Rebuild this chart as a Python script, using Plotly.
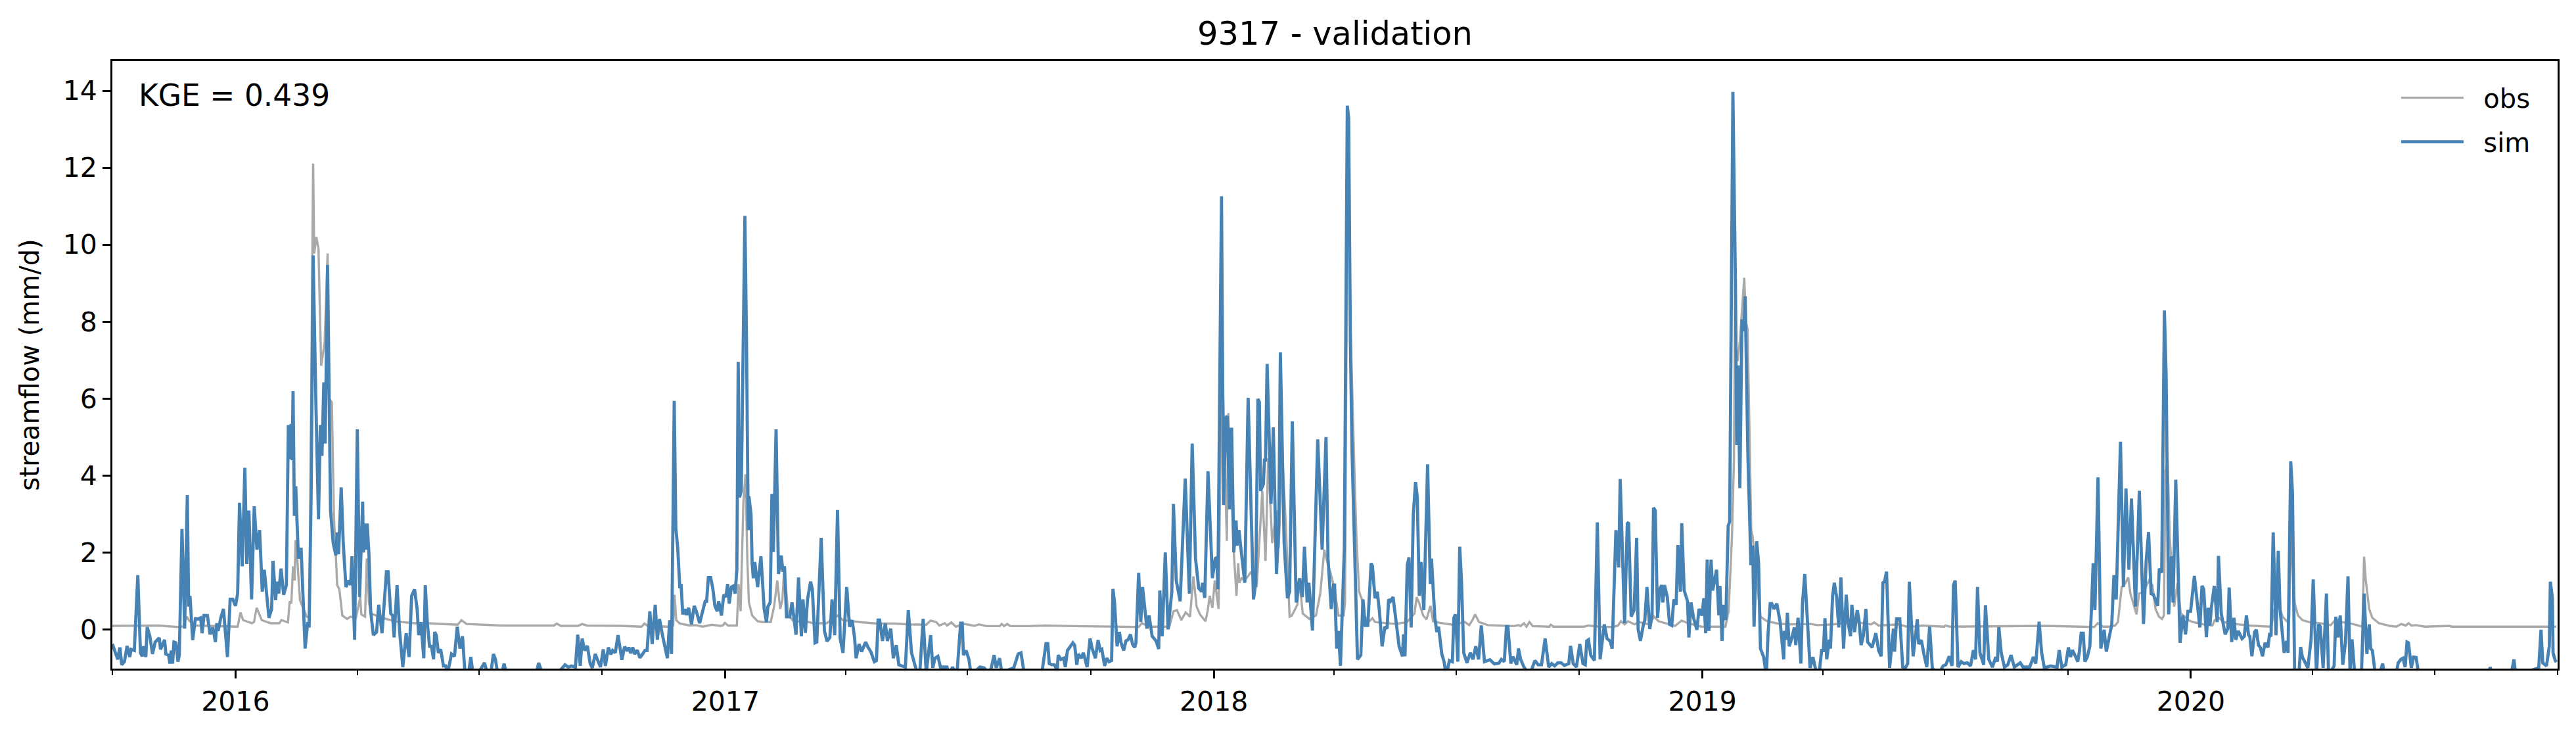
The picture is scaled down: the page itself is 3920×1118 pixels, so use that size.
import pandas as pd
import plotly.graph_objects as go

START = "2015-10-01"
TITLE = "9317 - validation"
KGE_TEXT = "KGE = 0.439"
Y_LABEL = "streamflow (mm/d)"
Y_TICKS = [0, 2, 4, 6, 8, 10, 12, 14]

# (days since START, mm/d)
sim_points = [
(0,-0.38),(2,-0.61),(4,-0.78),(5.6,-0.47),(7,-0.92),(9,-0.84),(11,-0.43),(13,-0.72),(14,-0.52),(16.4,-0.55),(19,1.41),(21,-0.61),(22.4,-0.7),(23,-0.44),(25,-0.72),(26,0.06),(28,-0.18),(30,-0.64),(32,-0.33),(35,-0.22),(36,-0.52),(39,-0.27),(40,-0.64),(42,-0.67),(43,-0.89),(44,-0.55),(45,-0.89),(46,-0.33),(47.5,-0.35),(49,-0.84),(50,-0.67),(52,2.61),(54,0.02),(56,3.49),(57,0.59),(58,0.87),(60,-0.28),(62,0.27),(64,0.27),(66,0.3),(67,-0.1),(68.5,0.36),(71,0.36),(73,-0.13),(75,0.05),(77,-0.33),(78,0.16),(79,-0.04),(81,0.3),(83,0.53),(86,-0.72),(88,0.78),(90,0.78),(92,0.61),(93.6,0.93),(95,3.29),(97,1.64),(99,4.2),(100.4,1.7),(102,3.09),(104,0.78),(106,3.2),(108,2.07),(110,2.58),(112,0.98),(113.5,1.55),(115,1.04),(117,0.3),(119,0.53),(120,1.78),(122,0.76),(123,1.24),(124.3,0.93),(126,1.58),(128,0.9),(130,1.15),(131.5,5.31),(133,4.43),(133.5,5.34),(134.3,4.4),(135,6.19),(136,2.95),(137,3.72),(138,2.5),(139,1.84),(141,2.12),(144,-0.5),(146,0.19),(147,0.05),(148.5,3.5),(150,9.72),(152,6.0),(154,2.86),(155.4,5.31),(156.6,4.51),(158,6.42),(159,4.83),(160.8,9.47),(163,3.09),(165,2.24),(167,1.92),(168,2.52),(169,1.95),(171,3.69),(172.5,2.24),(174.5,1.1),(176.7,1.27),(178,1.15),(179,1.9),(181,-0.27),(183,5.2),(184.7,0.84),(187,3.32),(187.6,2.0),(188.5,2.75),(190,2.07),(190.4,2.75),(191.7,1.95),(193,0.47),(195,-0.15),(197.4,-0.07),(199,0.64),(201.5,-0.1),(204.8,1.5),(206,1.5),(208,0.41),(209.4,0.36),(210.5,-0.21),(212.7,1.15),(214.6,-0.04),(217,-0.98),(219.5,-0.1),(221.7,-0.72),(223.6,0.87),(225.8,1.04),
(227.7,0.53),(228.9,-0.15),(230.5,0.19),(232.7,-0.75),(233.8,1.15),(235.4,0.13),(237,-0.44),(238.4,-0.44),(240,-0.78),(240.8,-0.07),(242,-0.15),(243.6,-0.61),(245.3,-0.52),(247.4,-0.95),(249,-0.95),(250.7,-1.1),(253.4,-0.64),(255.6,-0.7),(257.7,0.07),(259.7,-0.5),(261.6,-0.18),(263.3,-1.06),(266,-1.18),(267.8,-0.72),(269.1,-1.06),(272.7,-1.18),(278,-0.87),(280,-1.12),(282.6,-1.18),(284.7,-0.64),(286.2,-0.78),(287.8,-1.12),(290.7,-1.18),(292.7,-0.89),(294.3,-1.15),(303.8,-1.2),(310.4,-1.2),(316.9,-1.12),(318.5,-0.87),(321,-1.12),(326.7,-1.2),(333.3,-1.12),(338.2,-0.92),(340.6,-0.98),(343,-0.95),(346,-0.98),(347.7,-0.14),(349.6,-0.95),(351,-0.24),(352.9,-0.55),(354.9,-0.43),(357,-0.89),(358.6,-1.0),(360.8,-0.64),(362.7,-0.81),(364.7,-0.98),(366.8,-0.52),(368.4,-0.95),(370.6,-0.47),(372.5,-0.65),(373.8,-0.55),(375.8,-0.61),(377.8,-0.15),(380.7,-0.79),(382.7,-0.45),(384.8,-0.56),(385.9,-0.47),(387.3,-0.62),(388.9,-0.47),(390.2,-0.64),(392.2,-0.54),(394.1,-0.74),(396.2,-0.64),(397.9,-0.55),(399.5,-0.55),(401.6,0.47),(403.3,-0.38),(405.6,0.64),(407.2,-0.27),(408.8,0.27),(411,-0.15),(412.6,-0.44),(414.7,-0.75),(416.4,0.24),(417.8,-0.64),(419.8,5.94),(421,2.63),(422.4,2.12),(424,1.07),(424.9,1.18),(426.2,0.39),(427.8,0.53),(429,0.37),(430.6,0.56),(432.7,0.13),(434.7,0.61),(436.3,0.47),(438.8,0.16),(441.2,0.47),(442.9,0.73),(444,0.73),(445.3,1.35),(447,1.35),(448.6,1.07),(450.2,0.61),(451.9,0.47),(453,0.73),(455.1,0.36),
(456.8,0.9),(458.4,0.84),(459.7,1.18),(460.9,0.67),(462.5,1.1),(464.1,1.13),(465.3,0.93),(466.6,1.55),(467.6,6.95),(468.6,3.43),(469.9,3.6),(471.2,6.5),(472.6,10.75),(473.8,7.5),(475.1,2.58),(475.6,3.46),(477.2,2.98),(478,1.72),(478.9,1.33),(480,1.75),(482.1,1.1),(484.6,1.9),(487,0.53),(488.7,0.19),(489.8,0.59),(491.5,0.7),(492.8,3.52),(493.9,2.01),(495.9,5.2),(497.7,1.44),(499.8,1.92),(501,1.5),(502.2,1.64),(503.7,0.33),(506.2,0.33),(507.8,0.7),(510.8,-0.14),(512.7,1.35),(514.8,-0.18),(516,0.78),(517.8,-0.09),(519.4,0.78),(521.7,1.24),(523,1.04),(525,-0.35),(526.3,-0.33),(529.6,2.38),(532,-0.04),(534,-0.31),(536.1,-0.21),(537.7,0.78),(539.7,-0.15),(541.8,3.1),(543.8,-0.24),(545.9,-0.61),(548.7,1.1),(550.8,0.07),(552.8,0.24),(554.6,-0.24),(555.7,-0.75),(557.9,-0.38),(559.8,-0.58),(562.8,-0.33),(564.7,-0.47),(566.7,-0.58),(569.3,-0.84),(570.9,-0.81),(572.1,0.24),(573.3,0.24),(575.4,-0.3),(577.5,0.16),(579.1,-0.3),(581.6,0.02),(583.5,-0.75),(585.7,-0.41),(587.6,-0.92),(592.5,-0.98),(594.7,0.5),(597.1,-0.61),(600.7,-1.06),(603.2,-1.18),(605.8,0.27),(608.1,-1.12),(611.4,-0.15),(613,-1.0),(614.6,-0.75),(616.8,-0.7),(618.7,-0.98),(623.6,-0.98),(625.3,-1.18),(627.7,-0.98),(631,-1.18),(633.8,0.16),(635,0.16),(635.9,-0.67),(637.9,-0.55),(640,-0.78),(641.6,-1.18),(648.2,-0.98),(651.4,-1.0),(655.5,-1.18),(658.8,-0.67),(660.4,-1.0),(662.9,-0.75),(664.5,-1.12),(673.5,-1.0),(676.8,-0.64),(678.9,-0.61),(680.9,-1.06),
(686,-1.2),(694.8,-1.06),(697.6,-0.37),(698.9,-0.37),(700,-0.89),(702.1,-0.92),(703.8,-0.92),(705.9,-1.06),(706.7,-0.67),(708.7,-0.78),(710.8,-0.75),(712,-0.98),(713.6,-0.55),(715.7,-0.43),(717.7,-0.35),(719,-0.41),(720.6,-0.92),(721.8,-0.64),(723.9,-0.75),(725.5,-0.61),(728.3,-0.98),(730.5,-0.24),(732.1,-0.5),(734.5,-0.75),(736.5,-0.28),(738.1,-0.55),(739.3,-0.52),(741.4,-0.95),(743,-0.75),(744.7,-0.84),(746.6,-0.81),(747.6,1.05),(748.8,0.7),(750.7,-0.44),(752.4,-0.07),(753.7,-0.35),(755.6,-0.55),(757.3,-0.3),(758.9,-0.27),(760.7,-0.13),(762.2,-0.38),(763.8,-0.47),(764.8,-0.35),(766.8,1.47),(768.4,0.19),(769.7,1.1),(771.7,0.53),(773,0.02),(774.6,0.36),(776.9,-0.18),(779.8,-0.3),(781.8,-0.51),(782.6,1.01),(784.4,-0.18),(786.7,2.0),(788.8,0.0),(791.6,0.98),(792.8,3.26),(794.9,1.27),(797.8,0.73),(801.6,3.92),(804.7,0.93),(806.8,4.83),(809.3,1.84),(811.7,1.07),(813.9,0.98),(814.5,1.21),(816.2,0.82),(818.6,4.11),(821.9,1.33),(824,1.84),(825.2,1.87),(826,1.04),(828.7,11.26),(830.2,3.23),(831.9,5.51),(833,5.54),(834.7,3.12),(835.5,5.2),(836.3,5.2),(837.9,2.0),(839.6,2.83),(840.4,2.18),(841.7,2.58),(843.7,1.95),(846.1,1.21),(848.6,6.02),(852.6,0.78),(854.3,1.21),(855.9,5.99),(857,5.91),(857.9,3.6),(860,3.77),(860.8,4.4),(861.6,4.4),(862.8,6.9),(865.7,3.26),(867.4,5.25),(869.8,1.44),(871.5,2.69),(872.7,7.2),(875.5,2.24),(878,0.81),(879.6,0.98),(881.6,5.41),(884.5,0.7),(887,1.33),(889.1,0.84),(890.7,2.15),(892.7,0.7),(894,1.21),(896.7,-0.03),(900.6,4.94),(903.9,2.07),(906.8,5.0),(908.3,1.84),(910.7,0.53),
(912.4,1.15),(913.2,1.15),(914.8,-0.5),(916.1,-0.04),(917.6,-0.95),(920.5,2.12),(921.7,7.5),(922.7,13.61),(923.7,13.3),(925,7.5),(926.3,4.57),(927.6,2.8),(930.3,-0.78),(932.8,-0.67),(934.4,0.78),(936.1,0.1),(938,0.1),(940.5,1.72),(941.5,1.64),(943.4,0.81),(945.1,0.98),(946.7,0.47),(948.7,-0.44),(950.8,0.07),(952.4,0.02),(953.6,0.78),(954.9,0.73),(956.9,0.84),(959,0.16),(961.4,-0.44),(963.9,-0.7),(964.7,-0.13),(965.8,-0.7),(967.5,1.67),(968.8,1.87),(970.4,0.05),(972,2.98),(973.7,3.83),(975,3.43),(976.5,0.87),(977.8,1.75),(979.9,0.5),(982.7,4.29),(984.7,1.18),(985.6,1.84),(988.1,0.3),(989.6,-0.07),(990.9,0.07),(993.3,-0.64),(995,-0.84),(996.6,-1.2),(999,-0.81),(1001.2,-0.84),(1002.3,0.3),(1003.6,0.39),(1005.3,-0.84),(1006.7,2.15),(1008,1.27),(1009.7,-0.61),(1012.1,-0.87),(1014.6,-0.61),(1016.6,-0.78),(1018.7,-0.44),(1020.8,-0.78),(1022.8,0.1),(1025.2,-0.84),(1029.3,-0.79),(1032.6,-0.9),(1035.9,-0.88),(1037.8,-0.78),(1040,-0.84),(1041.6,0.07),(1042.7,0.07),(1044.9,-0.89),(1046.5,-0.71),(1049.3,-0.92),(1050.6,-0.5),(1052.2,-0.78),(1054.7,-0.98),(1058.8,-1.2),(1062.9,-0.81),(1065.3,-0.92),(1067.8,-0.92),(1070.5,-0.24),(1073.2,-0.98),(1075.4,-0.89),(1077.6,-0.95),(1080,-0.87),(1082.5,-0.87),(1084.9,-0.94),(1088.2,-0.89),(1089.5,-0.43),(1091.5,-0.89),(1093.9,-0.98),(1096.4,-0.38),(1098.8,-0.89),(1100.5,-0.92),(1101.6,-0.3),(1102.9,-0.27),(1104.6,-0.67),(1107.3,-0.81),(1109.5,2.78),(1111.6,-0.78),(1114.7,0.13),(1116.8,-0.24),(1119,-0.3),(1120.6,-0.5),(1123.4,2.58),(1125.5,1.61),(1126.6,3.91),(1129.9,0.16),(1131.9,2.75),(1132.9,2.78),(1134.8,0.33),(1137,0.5),(1138.9,2.38),
(1140,0.0),(1141.7,-0.3),(1143.8,0.1),(1145,0.24),(1146.6,1.1),(1148.7,0.01),(1150.4,0.36),(1151.5,3.16),(1152.8,3.09),(1154.5,0.3),(1156.1,1.04),(1157.7,1.15),(1158.5,0.7),(1159.7,1.15),(1161.8,0.84),(1163.5,0.13),(1165.1,0.1),(1166.7,0.78),(1168.4,0.64),(1169.7,2.19),(1171.6,0.98),(1172.6,2.76),(1174.4,1.01),(1176.9,0.73),(1177.9,-0.21),(1179.5,0.7),(1181.4,0.3),(1183.9,-0.01),(1185.5,0.53),(1187.7,0.36),(1189.1,0.81),(1190.5,-0.1),(1191.6,1.81),(1192.9,-0.04),(1194.5,1.81),(1195.7,1.01),(1198.6,1.55),(1200.3,0.36),(1201.1,1.13),(1202.7,-0.3),(1203.9,0.64),(1205.5,0.24),(1207.3,2.69),(1208.4,2.8),(1210.8,13.97),(1212.7,9.0),(1213.7,4.79),(1214.7,6.86),(1216,3.67),(1217.6,8.06),(1219,7.75),(1220,8.66),(1222,4.54),(1224.3,1.67),(1225.6,2.18),(1226.6,0.07),(1228.6,2.29),(1230,1.72),(1231.4,-0.5),(1233.8,-0.72),(1235.8,-1.2),(1237.1,-0.1),(1238.7,0.67),(1239.9,0.67),(1241.5,0.53),(1243.6,0.67),(1246.1,0.19),(1248.8,-0.78),(1249.3,-0.04),(1250.6,-0.27),(1251.5,0.43),(1252.9,-0.44),(1255,-0.21),(1256.7,0.05),(1257.8,-0.41),(1259.5,0.3),(1261.6,-0.89),(1262.8,0.67),(1264.5,1.44),(1266.5,0.33),(1268.5,-1.0),(1270.6,-0.72),(1273.1,-1.12),(1275.5,-1.06),(1277.1,-0.55),(1278.4,-0.55),(1279.6,0.29),(1280.9,-0.78),(1282.9,-0.27),(1283.7,-0.5),(1285.3,0.87),(1286.6,1.21),(1288.3,0.84),(1289.9,0.05),(1291.5,1.35),(1293.5,-0.5),(1295.5,0.9),(1297.1,0.13),(1298.7,-0.18),(1299.7,0.64),(1301.7,-0.07),(1303.7,0.5),(1305,0.24),(1306.6,-0.41),(1308.2,-0.18),(1310.2,0.53),(1311.5,-0.33),(1314.8,-0.47),(1317.6,-0.1),(1319.7,-0.55),(1321.6,-0.7),(1322.9,1.21),(1324.1,1.24),(1325.6,1.5),(1327.9,-1.0),(1330.8,0.02),(1331.6,-0.58),(1333.1,0.27),(1335.5,0.27),(1337.7,-0.98),(1339.6,-1.0),(1341.4,-0.89),(1342.6,1.24),(1345.5,-0.7),(1346.7,-0.3),(1348.6,0.26),(1349.6,-0.38),(1351.6,-0.28),(1353.7,-0.67),(1355.7,-0.98),(1357.8,0.07),(1359.8,-1.0),(1363.8,-1.2),(1367.9,-0.95),
(1369.9,-0.92),(1372.5,-0.7),(1374.5,-0.95),(1375.6,1.15),(1376.9,1.27),(1379,-0.98),(1381.4,-0.84),(1383.5,-0.89),(1385.9,-0.87),(1388.4,-0.95),(1390.5,-0.54),(1392.1,-0.78),(1393.6,1.1),(1395.4,-0.61),(1398.2,-0.92),(1399.5,0.63),(1402,-0.78),(1404.7,-0.98),(1407.2,-0.72),(1408.5,-0.84),(1409.5,0.06),(1411.3,-0.61),(1413.7,-0.98),(1416.2,-0.92),(1418.6,-0.67),(1421.1,-0.98),(1425.5,-0.87),(1427.6,-0.98),(1432.6,-0.98),(1435.3,-0.72),(1437.1,-0.89),(1439.6,0.2),(1441.5,-0.61),(1443.5,-1.0),(1448.1,-0.95),(1453,-0.98),(1454.6,-0.54),(1456.6,-0.98),(1459.5,-0.92),(1461.5,-0.47),(1463.1,-0.72),(1464.5,-0.54),(1467.4,-0.75),(1468.5,-0.84),(1469.7,-0.58),(1471,-0.1),(1472.6,-0.1),(1473.8,-0.84),(1475.6,-0.72),(1477.5,-0.44),(1478.7,0.53),(1480,1.72),(1481.3,0.5),(1483.6,3.95),(1485.7,-0.5),(1488.2,-0.01),(1489.8,-0.58),(1492.3,-0.1),(1493.9,0.13),(1495.5,1.41),(1497.2,0.78),(1500.4,4.88),(1502.6,1.1),(1504.5,3.66),(1506.7,1.55),(1508.6,3.4),(1511.6,0.59),(1514.5,3.6),(1517.6,0.14),(1519.6,1.78),(1521.4,2.53),(1523.3,0.93),(1525,0.9),(1528.2,0.61),(1529.4,1.58),(1531.2,1.47),(1533.2,8.29),(1534.5,6.6),(1536.4,0.39),(1538.4,1.9),(1539.7,0.7),(1541.7,3.89),(1544.9,-0.35),(1547,0.36),(1549,-0.13),(1550.8,0.47),(1552.8,0.47),(1555.6,1.39),(1558,0.7),(1559.7,0.05),(1561.3,1.13),(1562.6,1.04),(1564.6,-0.2),(1565.9,0.56),(1567.2,0.1),(1568.3,0.56),(1570.5,1.13),(1572.7,0.19),(1573.6,1.91),(1575.7,0.41),(1578.6,-0.13),(1580.6,0.02),(1581.6,1.09),(1583.5,-0.33),(1585.2,0.3),(1586.6,-0.27),(1588.3,-0.04),(1591.2,-0.24),(1592.9,-0.18),(1594.5,0.36),(1596.1,-0.15),
(1597,-0.18),(1598.6,-0.7),(1600.6,-0.07),(1601.9,-0.01),(1603.5,-0.41),(1604.9,-0.47),(1606.5,-0.7),(1608.5,-0.35),(1610.6,-0.47),(1611.7,-0.15),(1612.9,-0.18),(1614.5,2.52),(1616.6,-0.15),(1618.3,2.04),(1619.6,0.53),(1622.7,-0.61),(1624.5,-0.3),(1625.6,-0.61),(1627.6,4.37),(1628.9,3.55),(1630.5,-1.12),(1633.8,-1.12),(1635,-0.46),(1636.3,-0.72),(1640.4,-1.0),(1642.8,-0.27),(1644.4,1.3),(1646.9,-1.2),(1648.5,0.13),(1649.7,0.07),(1651.8,-1.0),(1654.3,0.93),(1655.9,-1.2),(1660,-0.95),(1661.3,0.33),(1662.9,-0.21),(1664.6,0.36),(1666.5,-0.92),(1668.5,-0.33),(1670.4,1.38),(1671.9,-1.12),(1673.4,-0.26),(1675.5,-1.2),(1680.4,-1.2),(1682.4,0.93),(1684.5,-0.64),(1686.3,0.13),(1687.3,-0.5),(1688.6,-0.55),(1690.6,-1.12),(1694.8,-1.06),(1696.3,-0.89),(1697.6,-1.2),(1706.6,-1.12),(1707.9,-0.87),(1709.9,-0.78),(1711.5,-0.75),(1713.1,-0.98),(1714.5,-0.33),(1715.6,-0.35),(1717.7,-1.0),(1719.4,-0.72),(1721.3,-0.73),(1723,-1.12),(1732.8,-1.2),(1775.3,-1.2),(1776.6,-0.98),(1778.3,-1.2),(1792.5,-1.12),(1794.4,-0.78),(1795.8,-1.2),(1812.9,-1.0),(1814.6,-0.01),(1815.9,-0.87),(1818.7,-0.95),(1820.8,-0.44),(1821.6,1.24),(1823.1,0.81),(1823.6,-0.61),(1825.2,-0.81),(1826,-0.85),
]

obs_points = [
(0,0.09),(13,0.09),(35,0.1),(49,0.06),(53,0.08),(55.5,0.33),(57.6,0.22),(62.5,0.1),(93.6,0.07),(95.7,0.44),(97.7,0.24),(104.2,0.16),(105.8,0.19),(107.8,0.56),(111.6,0.24),(118.1,0.16),(124.7,0.16),(126.3,0.24),(131.2,0.18),(132.5,0.73),(133.7,0.67),(135,1.64),(136.1,1.27),(136.9,2.32),(138.1,1.84),(140.2,0.76),(142.6,0.53),(145.1,0.33),(147.2,0.3),(150,12.11),(150.8,9.77),(152.4,10.2),(154,9.9),(156,6.85),(158.6,7.45),(160.8,9.77),(162,6.0),(164,5.9),(165.5,2.98),(166.9,1.84),(168,1.15),(169.6,1.04),(171.8,0.36),(175.4,0.27),(177.8,0.33),(182,0.3),(185.2,0.84),(186,0.39),(188.8,0.33),(190.1,1.84),(191.7,0.7),(193.4,0.41),(201.5,0.3),(208,0.24),(213,0.2),(226,0.16),
(235.1,0.16),(258,0.12),(260.8,0.24),(264.6,0.14),(290.7,0.1),(330,0.1),(332,0.15),(335,0.09),(348,0.09),(351,0.14),(354.5,0.1),(380.7,0.09),(395.4,0.07),(397.6,0.15),(400,0.09),(415,0.07),(418,0.1),(419,0.1),(420,0.9),(421.3,0.24),(424,0.15),(431.4,0.1),(436,0.11),(441.2,0.07),(447.8,0.12),(454.3,0.09),
(456,0.1),(457.6,0.17),(460,0.1),(466.6,0.1),(467.9,1.18),(469.4,0.47),(471.5,3.32),(473.1,4.03),(474.4,1.84),(475.6,0.7),(478,0.36),(482.1,0.21),(486.2,0.19),(491.9,0.19),(494.4,0.59),(496.8,1.27),(499,0.53),(500.6,0.76),(501.8,1.5),(503.4,1.04),(505,0.36),(509.1,0.21),(519,0.2),(523.8,0.16),(533.7,0.16),(541.8,0.36),(545.9,0.24),(551.6,0.21),(558.2,0.19),(571.3,0.15),(584.4,0.15),(595.8,0.13),(608.1,0.12),(611.4,0.23),(615.5,0.19),(617.9,0.1),(622,0.16),(623.6,0.1),(626.9,0.18),(630.2,0.07),(636.7,0.14),(644.1,0.09),(647.4,0.13),(653.1,0.085),(662.9,0.085),(664.5,0.14),(666.2,0.085),(668.6,0.14),(671,0.085),(684.2,0.085),
(697.2,0.1),(719.3,0.085),(747.1,0.07),(766.8,0.06),(769.2,0.16),(775,0.07),(789.7,0.07),(792.9,0.47),(795.4,0.5),(798.7,0.24),(801.9,0.44),(805.2,0.33),(807.7,1.38),(810.1,0.59),(812.6,0.39),(816.7,0.21),(818.3,0.47),(819.9,0.87),(821.9,0.56),(823.7,1.27),(826.5,0.53),(828.1,4.68),(829,7.5),(831,4.5),(832.7,2.3),(833.8,5.62),(837.9,2.0),(839.9,0.87),(841.2,1.72),(842,1.21),(843.7,1.33),(846.1,1.27),(851,1.5),(855,1.1),(859.2,3.6),(861.6,1.78),(863.6,4.45),(866.6,2.24),(869.8,3.09),(871.5,2.12),(873.9,4.68),(876.4,2.98),(879.6,0.33),(881.3,0.36),(885.4,0.64),(887,1.27),(889.4,0.41),(894.4,0.27),(899.3,0.36),(902.5,0.93),(905.5,2.07),(908.3,1.67),(909.9,1.5),
(913.2,1.04),(914.8,0.7),(916.1,0.36),(920,0.36),(921,0.7),(923,13.2),(925,8.0),(927.9,4.28),(929.5,2.41),(931.5,0.98),(933.6,0.78),(935.3,0.36),(938.5,0.19),(941.5,0.29),(943.4,0.19),(949.2,0.17),(959,0.14),(967.2,0.19),(972.9,0.41),(974.5,0.84),(976.2,0.7),(979.4,0.36),(981.9,0.26),(984.8,0.61),(986.8,0.21),(991.7,0.17),(1001.5,0.12),(1010.5,0.19),(1013.8,0.11),(1016.2,0.24),(1018.2,0.39),(1021.1,0.19),(1027.7,0.11),(1047.3,0.085),(1050.6,0.11),(1052.2,0.085),(1054.7,0.16),(1056.6,0.07),(1058.8,0.19),(1061.2,0.085),(1073.5,0.07),(1074.8,0.12),(1076.8,0.07),(1099.7,0.07),(1103,0.1),(1111.1,0.07),(1121,0.06),(1125,0.1),(1127.1,0.21),(1129.9,0.13),(1132.4,0.21),(1137.3,0.13),(1140.6,0.19),
(1147.9,0.13),(1152,0.33),(1155.3,0.21),(1162.6,0.13),(1167.6,0.09),(1172.5,0.23),(1177.4,0.16),(1187.2,0.07),(1205.2,0.07),(1207.6,0.47),(1210.1,2.4),(1211.6,4.4),(1212.5,9.0),(1213.5,7.0),(1214.4,7.0),(1216,7.5),(1218,8.6),(1219.3,9.14),(1220.5,8.0),(1221.8,7.8),(1224.5,2.59),(1225.6,2.4),(1231.4,0.33),(1236.3,0.21),(1244.4,0.15),(1252.6,0.13),(1269,0.14),(1273.9,0.11),(1285.3,0.13),(1301.7,0.19),(1314,0.13),(1316.4,0.18),(1319.7,0.1),(1334.4,0.13),(1340.9,0.07),(1349,0.08),(1352,0.1),(1368.8,0.07),
(1369.6,0.1),(1372.8,0.07),(1444.8,0.09),(1474.3,0.07),(1480.8,0.06),(1483.3,0.16),(1487.4,0.07),(1492.3,0.07),(1496.4,0.1),(1498.5,0.19),(1501.3,1.1),(1503.7,1.18),(1506.2,1.35),(1507.8,0.93),(1510.3,0.64),(1512.4,0.39),(1514.3,0.93),(1517.6,0.98),(1521.7,1.27),(1524.2,1.15),(1526.6,0.53),(1529.1,0.33),(1531.5,0.27),(1532.8,0.36),(1534,4.1),(1535.6,4.4),(1537.2,2.41),(1538.1,1.9),(1540.5,0.59),(1543,1.2),(1545.4,0.42),(1551.2,0.24),(1554.4,0.19),(1562.6,0.13),(1569.1,0.1),(1570.8,0.24),(1574,0.3),(1577.3,0.19),(1585.5,0.14),(1597,0.1),
(1605.2,0.09),(1611.7,0.07),(1613.4,0.13),(1617.4,0.93),(1619.1,0.59),(1621.5,0.33),(1624.8,0.21),(1626.5,0.3),(1627.6,2.5),(1629,1.5),(1630.5,0.7),(1633,0.36),(1636.3,0.24),(1641.2,0.19),(1649.3,0.16),(1657.5,0.11),(1661.3,0.26),(1665.7,0.19),(1673.9,0.14),(1681.2,0.07),(1682.4,1.89),(1683.7,1.27),(1686.2,0.53),(1688.6,0.3),(1693.5,0.16),(1701.7,0.09),(1706.6,0.07),(1710.2,0.14),(1713.5,0.1),(1715.6,0.16),(1717.7,0.1),(1721.3,0.11),(1727.9,0.07),(1745.9,0.09),(1748.3,0.07),(1826,0.07),
]


def to_dates(points):
    base = pd.Timestamp(START)
    return [base + pd.Timedelta(days=p[0]) for p in points], [p[1] for p in points]


FONT = "DejaVu Sans"
W, H = 3920, 1118
L, R, T, B = 171, 3892, 93, 1017.5
PW, PH = R - L, B - T

obs_x, obs_y = to_dates(obs_points)
sim_x, sim_y = to_dates(sim_points)

fig = go.Figure()
fig.add_trace(go.Scatter(x=obs_x, y=obs_y, mode="lines", name="\u00a0\u00a0obs", legendgroup="obs",
                         line=dict(color="#A9A9A9", width=3.4)))
fig.add_trace(go.Scatter(x=sim_x, y=sim_y, mode="lines", name="\u00a0\u00a0sim", legendgroup="sim",
                         line=dict(color="#4682B4", width=4.8)))

fig.update_layout(
    width=W, height=H, autosize=False,
    margin=dict(l=L, r=W - R, t=T, b=H - B, pad=0),
    paper_bgcolor="white", plot_bgcolor="white",
    font=dict(family=FONT, size=41, color="black"),
    title=dict(text=TITLE, font=dict(family=FONT, size=49.5, color="black"),
               x=(L + R) / 2 / W, xanchor="center", y=1 - 51 / H, yanchor="middle", xref="container", yref="container"),
    showlegend=True,
    legend=dict(x=0.9903, xanchor="right", y=0.975, yanchor="top", bgcolor="rgba(0,0,0,0)", borderwidth=0,
                font=dict(family=FONT, size=40), itemwidth=95, tracegroupgap=12, traceorder="grouped"),
    xaxis=dict(range=["2015-10-01", "2020-10-01"], type="date", showgrid=False, zeroline=False,
               showline=True, mirror=True, linecolor="black", linewidth=3,
               ticks="outside", ticklen=12, tickwidth=2.8, tickcolor="black",
               dtick="M12", tick0="2016-01-01", tickformat="%Y", ticklabelmode="instant",
               tickfont=dict(family=FONT, size=41),
               minor=dict(dtick="M3", tick0="2015-10-01", ticks="outside", ticklen=7, tickwidth=2.2, tickcolor="black", showgrid=False)),
    yaxis=dict(range=[-1.02, 14.77], showgrid=False, zeroline=False,
               showline=True, mirror=True, linecolor="black", linewidth=3,
               ticks="outside", ticklen=12, tickwidth=2.8, tickcolor="black",
               tickvals=Y_TICKS, tickfont=dict(family=FONT, size=41),
               title=dict(text=Y_LABEL, font=dict(family=FONT, size=40), standoff=24)),
    annotations=[dict(text=KGE_TEXT, xref="paper", yref="paper", showarrow=False,
                      x=(209 - L) / PW, xanchor="left", y=1 - (146 - T) / PH, yanchor="middle",
                      font=dict(family=FONT, size=45.5, color="black"))],
)

fig.write_html("out.html", config={"displayModeBar": False}, post_script="document.body.style.margin='0';")
